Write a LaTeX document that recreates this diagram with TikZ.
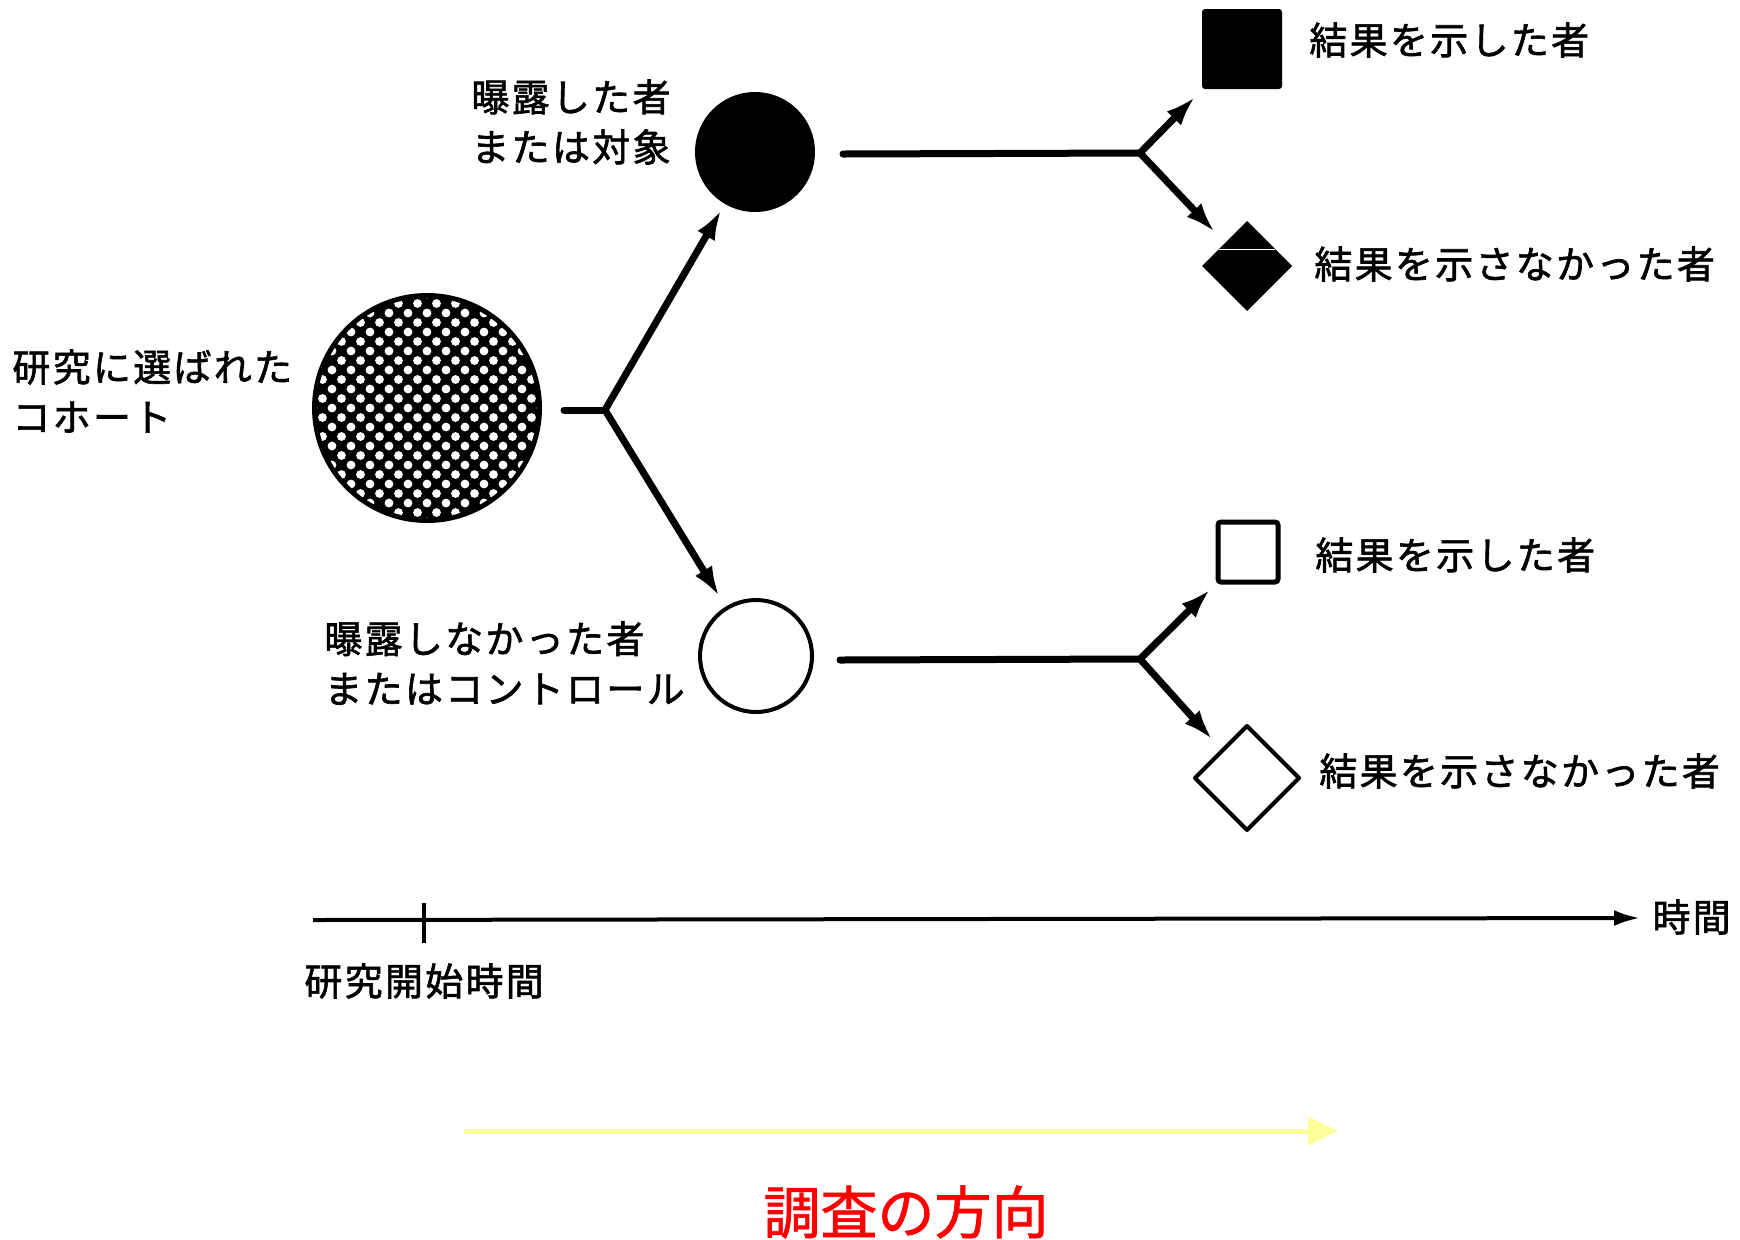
\documentclass[tikz,border=0pt]{standalone}
\usepackage{fontspec}
\newfontfamily\jp[LetterSpace=6,FakeBold=1.6]{Noto Sans CJK JP}
\newfontfamily\jpred[FakeBold=1.2]{Noto Sans CJK JP}
\usetikzlibrary{arrows.meta,shapes.geometric}
\definecolor{paleyellow}{HTML}{FFFF99}
\tikzset{
  lab/.style={font=\jp\fontsize{19pt}{25pt}\selectfont, inner sep=0pt, anchor=west, align=left},
  thickline/.style={line width=3.5pt, line cap=round, line join=round},
  arr/.style={thickline, -{Latex[length=15pt,width=10pt]}},
  blob/.style={circle, inner sep=0pt, outer sep=0pt},
  box/.style={rectangle, inner sep=0pt, outer sep=0pt, rounded corners=1.5pt},
  dia/.style={diamond, inner sep=0pt, outer sep=0pt, aspect=1},
}
\begin{document}
\begin{tikzpicture}[x=0.5pt,y=-0.5pt]
\useasboundingbox (0,0) rectangle (1740,1239);

% cohort circle with dot pattern
\node[blob, fill=black, minimum size=115pt] (cohort) at (427,408) {};
\begin{scope}
  \clip (427,408) circle[radius=55pt];
  \foreach \i in {-12,...,12}{
    \pgfmathsetmacro\off{9.5*abs(mod(\i,2))}
    \foreach \j in {-7,...,6}{
      \fill[white] ({427+\i*9.5},{408+\off+\j*19}) circle[radius=2.2pt];
    }
  }
\end{scope}

% exposed / non-exposed
\node[blob, fill=black, minimum size=60pt] (exp) at (755,152) {};
\node[blob, draw, fill=white, line width=2pt, minimum size=56pt] (nonexp) at (756,656) {};

% outcomes
\node[box, fill=black, minimum size=40pt] (sq1) at (1242,49) {};
\node[dia, fill=black, minimum size=45pt] (dia1) at (1247,266) {};
\draw[white, line width=0.5pt] (1219,249) -- (1275,249);
\node[box, draw, line width=2.5pt, minimum size=30pt] (sq2) at (1248,552) {};
\node[dia, draw, line width=2pt, line join=round, minimum size=52pt] (dia2) at (1247,778) {};

% labels
\node[lab] (lcohort) at (12,391) {研究に選ばれた\\コホート};
\node[lab] (lexp) at (471,122) {曝露した者\\または対象};
\node[lab] (lnonexp) at (324,663) {曝露しなかった者\\またはコントロール};
\node[lab] (lsq1) at (1309,40) {結果を示した者};
\node[lab] (ldia1) at (1314,264) {結果を示さなかった者};
\node[lab] (lsq2) at (1315,555) {結果を示した者};
\node[lab] (ldia2) at (1319,771) {結果を示さなかった者};
\node[lab] (ltime) at (1652,917) {時間};
\node[lab] (lstart) at (304,981) {研究開始時間};
\node[font=\jpred\fontsize{28.5pt}{34pt}\selectfont, text=red, inner sep=0pt] (ldir) at (906,1212) {調査の方向};

% branching connectors
\coordinate (s1) at (564,410);
\coordinate (j1) at (605,410);
\draw[thickline] (s1) -- (j1);
\draw[arr, shorten >=3.5pt] (j1) -- (exp);
\draw[arr, shorten >=7pt] (j1) -- (nonexp);

\coordinate (s2) at (843,154);
\coordinate (j2) at (1140,153);
\draw[thickline] (s2) -- (j2);
\draw[arr, shorten >=5.5pt] (j2) -- (sq1);
\draw[arr, shorten >=7.5pt] (j2) -- (dia1);

\coordinate (s3) at (840,660);
\coordinate (j3) at (1140,659);
\draw[thickline] (s3) -- (j3);
\draw[arr, shorten >=5.5pt] (j3) -- (sq2);
\draw[arr, shorten >=7.5pt] (j3) -- (dia2);

% time axis
\coordinate (a0) at (313,920);
\coordinate (a1) at (1640,918);
\draw[line width=2pt, -{Latex[length=13pt,width=8pt]}] (a0) -- (a1);
\coordinate (t0) at (424,903);
\coordinate (t1) at (424,943);
\draw[line width=1.8pt] (t0) -- (t1);

% direction of study arrow
\coordinate (y0) at (464,1131);
\coordinate (y1) at (1338,1131);
\draw[paleyellow, line width=2.5pt, -{Triangle[length=15pt,width=14pt]}] (y0) -- (y1);
\end{tikzpicture}
\end{document}
